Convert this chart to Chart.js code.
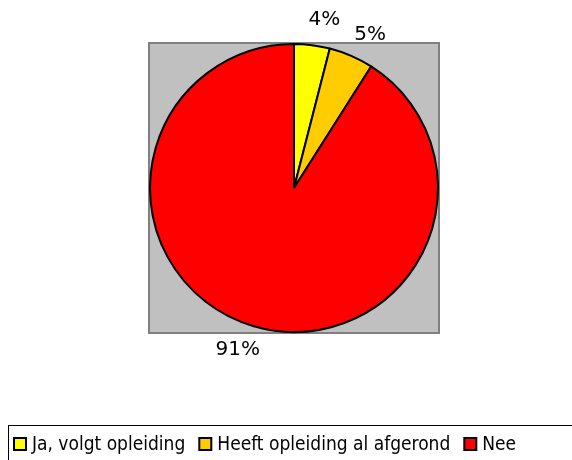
<!DOCTYPE html>
<html>
<head>
<meta charset="utf-8">
<script src="https://cdn.jsdelivr.net/npm/chart.js@4.4.0/dist/chart.umd.min.js"></script>
<style>
  html, body { margin: 0; padding: 0; background: #fff; }
  #wrap { width: 572px; height: 460px; position: relative; }
</style>
</head>
<body>
<div id="wrap"><canvas id="myChart" width="572" height="460"></canvas></div>
<script>
// data
let categorias = ['Ja, volgt opleiding', 'Heeft opleiding al afgerond', 'Nee'];
let porcentajes = [4, 5, 91];
let colores = ['#FFFF00', '#FFCC00', '#FF0000'];

let fuente = '"DejaVu Sans Condensed", "DejaVu Sans", sans-serif';

// gray square behind the pie
let fondoPlugin = {
    id: 'fondo',
    beforeDatasetsDraw: (chart)=>{
        let arc = chart.getDatasetMeta(0).data[0];
        let r = arc.outerRadius + 1;
        let ctx = chart.ctx;
        ctx.save();
        ctx.fillStyle = '#C0C0C0';
        ctx.fillRect(arc.x - r, arc.y - r, 2*r, 2*r);
        ctx.strokeStyle = '#808080';
        ctx.lineWidth = 2;
        ctx.strokeRect(arc.x - r, arc.y - r, 2*r, 2*r);
        ctx.restore();
    }
};

// percentage labels outside the slices
let etiquetasPlugin = {
    id: 'etiquetas',
    afterDatasetsDraw: (chart)=>{
        let ctx = chart.ctx;
        let meta = chart.getDatasetMeta(0);
        ctx.save();
        ctx.font = '20px "DejaVu Sans", sans-serif';
        ctx.fillStyle = '#000';
        ctx.textAlign = 'center';
        ctx.textBaseline = 'middle';
        for(let i = 0; i < meta.data.length; i++){
            let arc = meta.data[i];
            let mid = (arc.startAngle + arc.endAngle) / 2 + 3 * Math.PI / 180;
            let d = arc.outerRadius + 27;
            ctx.fillText(porcentajes[i] + '%', arc.x + Math.cos(mid)*d, arc.y + Math.sin(mid)*d);
        }
        ctx.restore();
    }
};

// legend box at the bottom
let leyendaPlugin = {
    id: 'leyenda',
    afterDraw: (chart)=>{
        let ctx = chart.ctx;
        ctx.save();
        ctx.strokeStyle = '#000';
        ctx.lineWidth = 1;
        ctx.strokeRect(8.5, 425.5, 600, 60);
        ctx.font = '19px ' + fuente;
        ctx.textBaseline = 'middle';
        let x = 14;
        let yc = 444;
        for(let i = 0; i < categorias.length; i++){
            ctx.fillStyle = colores[i];
            ctx.fillRect(x, yc - 6, 12, 12);
            ctx.lineWidth = 2;
            ctx.strokeStyle = '#000';
            ctx.strokeRect(x, yc - 6, 12, 12);
            ctx.fillStyle = '#000';
            ctx.fillText(categorias[i], x + 18, yc + 1);
            x += 18 + ctx.measureText(categorias[i]).width + 14;
        }
        ctx.restore();
    }
};

new Chart('myChart', {
    type: 'pie',
    data: {
        labels: categorias,
        datasets: [{
            data: porcentajes,
            backgroundColor: colores,
            borderColor: '#000',
            borderWidth: 2
        }]
    },
    options: {
        responsive: false,
        animation: false,
        layout: { padding: { left: 149, right: 133, top: 43, bottom: 127 } },
        plugins: {
            legend: { display: false },
            tooltip: { enabled: false }
        }
    },
    plugins: [fondoPlugin, etiquetasPlugin, leyendaPlugin]
});
</script>
</body>
</html>
